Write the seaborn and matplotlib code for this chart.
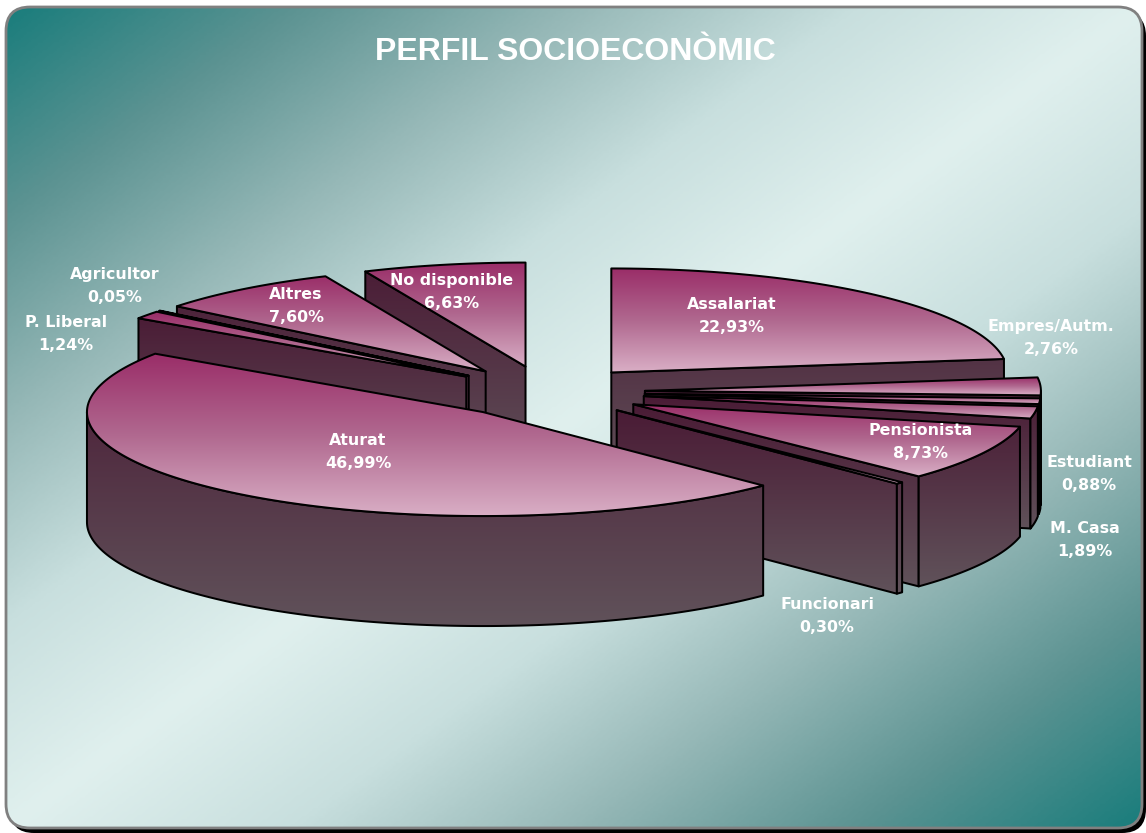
import numpy as np
import matplotlib
matplotlib.use("Agg")
import matplotlib.pyplot as plt
from matplotlib.patches import Polygon, FancyBboxPatch
import seaborn as sns

# ---- data ----
categories = ["Assalariat", "Empres/Autm.", "Estudiant", "M. Casa", "Pensionista",
              "Funcionari", "Aturat", "P. Liberal", "Agricultor", "Altres", "No disponible"]
shares = [22.93, 2.76, 0.88, 1.89, 8.73, 0.30, 46.99, 1.24, 0.05, 7.60, 6.63]
title_text = "PERFIL SOCIOECONÒMIC"

# ---- layout (pixels) ----
W, H = 1146, 833
CX, CY, RX, RY, DEPTH = 546, 392, 396, 104, 110
EXPLODE = 0.25
label_centres = {
    "Assalariat": (732, 316), "Empres/Autm.": (1051, 338), "Estudiant": (1089, 474),
    "M. Casa": (1085, 540), "Pensionista": (921, 442), "Funcionari": (827, 616),
    "Aturat": (358, 452), "P. Liberal": (66, 334), "Agricultor": (115, 286),
    "Altres": (296, 306), "No disponible": (452, 292),
}

sns.set_theme(style="white")
plt.rcParams["font.family"] = ["DejaVu Sans"]

fig = plt.figure(figsize=(W / 100, H / 100), dpi=100, facecolor="white")
ax = fig.add_axes([0, 0, 1, 1])
ax.set_axis_off()

top_cmap = sns.blend_palette(["#9a2d68", "#b0688f", "#d9aec5"], as_cmap=True)
side_cmap = sns.blend_palette(["#4a1b35", "#60525a"], as_cmap=True)
back_cmap = sns.blend_palette(["#1a7d7c", "#5c9392", "#96b8b7", "#c8dfde", "#e0f0ee",
                               "#c8dfde", "#96b8b7", "#5c9392", "#1a7d7c"], as_cmap=True)
ramp = np.linspace(0, 1, 256).reshape(-1, 1)


def shaded(points, cmap, z, span=None):
    patch = Polygon(points, closed=True, facecolor="none", edgecolor="black",
                    linewidth=1.45, joinstyle="round", zorder=z + 0.05)
    ax.add_patch(patch)
    pts = np.asarray(points)
    x0, x1 = pts[:, 0].min(), pts[:, 0].max()
    y0, y1 = span if span else (pts[:, 1].min(), pts[:, 1].max())
    im = ax.imshow(ramp, cmap=cmap, vmin=0, vmax=1, extent=(x0 - 2, x1 + 2, y1, y0),
                   aspect="auto", zorder=z, interpolation="bilinear")
    im.set_clip_path(Polygon(points, closed=True, transform=ax.transData))


# background card
ax.add_patch(FancyBboxPatch((10, 12), 1136, 821, boxstyle="round,pad=0,rounding_size=24",
                            facecolor="black", edgecolor="none", zorder=0))
card = FancyBboxPatch((6, 7), 1136, 821, boxstyle="round,pad=0,rounding_size=24",
                      facecolor="none", edgecolor="#808080", linewidth=2.0, zorder=1.5)
ax.add_patch(card)
xx, yy = np.meshgrid(np.linspace(0, 1, 400), np.linspace(0, 1, 300))
bg = ax.imshow((xx + yy) / 2, cmap=back_cmap, vmin=0, vmax=1, extent=(6, 1142, 828, 7),
               aspect="auto", zorder=1, interpolation="bilinear")
bg.set_clip_path(FancyBboxPatch((6, 7), 1136, 821, boxstyle="round,pad=0,rounding_size=24",
                                transform=ax.transData))

# pie slices
edges = np.concatenate([[0], np.cumsum(shares)]) / np.sum(shares) * 2 * np.pi
slices = []
for name, a0, a1 in zip(categories, edges[:-1], edges[1:]):
    mid = (a0 + a1) / 2
    apex = np.array([CX + EXPLODE * RX * np.sin(mid), CY - EXPLODE * RY * np.cos(mid)])
    slices.append((apex[1], name, a0, a1, apex))
slices.sort(key=lambda s: s[0])


def rim(apex, ang):
    ang = np.atleast_1d(ang)
    return np.column_stack([apex[0] + RX * np.sin(ang), apex[1] - RY * np.cos(ang)])


down = np.array([0, DEPTH])
for i, (_, name, a0, a1, apex) in enumerate(slices):
    z = 2 + i
    arc = rim(apex, np.linspace(a0, a1, max(int((a1 - a0) * 60), 6)))
    all_pts = np.vstack([arc, [apex]])
    span = (all_pts[:, 1].min(), all_pts[:, 1].max() + DEPTH)
    # radial faces turned towards the viewer
    if np.sin(a0) < 0:
        p = rim(apex, a0)[0]
        shaded([apex, p, p + down, apex + down], side_cmap, z, span)
    if np.sin(a1) > 1e-6:
        p = rim(apex, a1)[0]
        shaded([apex, p, p + down, apex + down], side_cmap, z + 0.1, span)
    # outer wall, front half only
    lo, hi = max(a0, np.pi / 2), min(a1, 3 * np.pi / 2)
    if hi > lo:
        front = rim(apex, np.linspace(lo, hi, max(int((hi - lo) * 60), 6)))
        shaded(np.vstack([front, (front + down)[::-1]]), side_cmap, z + 0.2, span)
    # top face
    shaded(np.vstack([[apex], arc]), top_cmap, z + 0.3)

# labels
for name, value in zip(categories, shares):
    x, y = label_centres[name]
    pct = f"{value:.2f}".replace(".", ",")
    ax.text(x, y, f"{name}\n{pct}%", ha="center", va="center", color="white",
            fontweight="bold", fontsize=11.4, linespacing=1.62, zorder=50)

ax.text(575, 52, title_text, ha="center", va="center", color="white", fontweight="bold",
        family=["Liberation Sans", "DejaVu Sans"], fontsize=23, zorder=50)

ax.set_xlim(0, W)
ax.set_ylim(H, 0)
fig.savefig("out.png", dpi=100)
